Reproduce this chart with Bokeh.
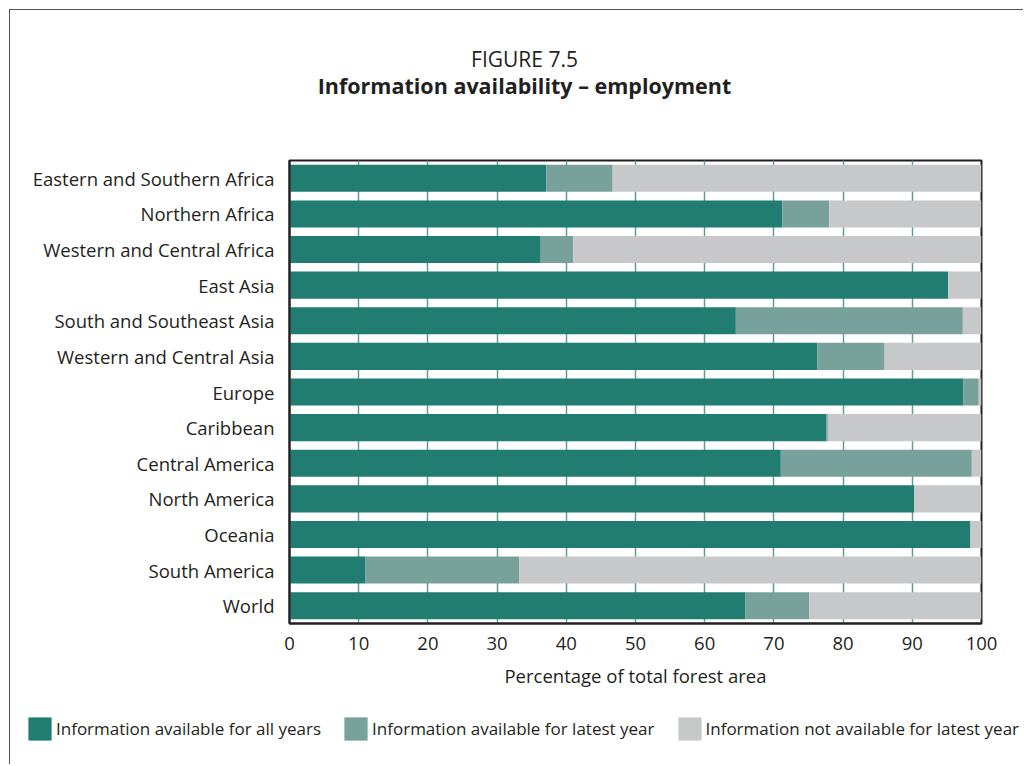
from bokeh.plotting import figure
from bokeh.models import (ColumnDataSource, FactorRange, Range1d, FixedTicker,
                          Legend, LegendItem, Label)
from bokeh.embed import file_html
from bokeh.resources import INLINE

regions = ["Eastern and Southern Africa", "Northern Africa", "Western and Central Africa",
           "East Asia", "South and Southeast Asia", "Western and Central Asia", "Europe",
           "Caribbean", "Central America", "North America", "Oceania", "South America", "World"]
all_years = [37.1, 71.2, 36.3, 95.2, 64.5, 76.3, 97.4, 77.6, 71.0, 90.3, 98.4, 11.0, 65.9]
latest_year = [9.6, 6.8, 4.7, 0.0, 32.8, 9.7, 2.2, 0.2, 27.6, 0.0, 0.0, 22.2, 9.2]
not_available = [53.3, 22.0, 59.0, 4.8, 2.7, 14.0, 0.4, 22.2, 1.4, 9.7, 1.6, 66.8, 24.9]
series_labels = ["Information available for all years", "Information available for latest year",
                 "Information not available for latest year"]
x_ticks = [0, 10, 20, 30, 40, 50, 60, 70, 80, 90, 100]
title_top = "FIGURE 7.5"
title_main = "Information availability – employment"
x_label = "Percentage of total forest area"

colors = ["#217d72", "#78a19b", "#c7c8ca"]
FONT = "Open Sans"
FS = "18.5px"
TXT = "#231f20"
FRAME = "1px solid #555"


def blank(h, top=False):
    f = figure(width=1014, height=h, output_backend="svg", toolbar_location=None,
               x_range=Range1d(0, 1), y_range=Range1d(0, 1),
               x_axis_location=None, y_axis_location=None,
               min_border_left=0, min_border_right=0, min_border_top=0, min_border_bottom=0)
    f.outline_line_color = None
    f.grid.grid_line_color = None
    st = {"border-left": FRAME, "margin-left": "9px"}
    if top:
        st.update({"border-top": FRAME, "margin-top": "9px"})
    f.styles = st
    return f


# ---- title strip
tf = blank(146, top=True)
tf.add_layout(Label(x=514, y=98, x_units="screen", y_units="screen", text=title_top,
                    text_font=FONT, text_font_size="21px", text_color=TXT,
                    text_align="center", text_baseline="middle"))
tf.add_layout(Label(x=514, y=71, x_units="screen", y_units="screen", text=title_main,
                    text_font=FONT, text_font_size="21.5px", text_font_style="bold",
                    text_color=TXT, text_align="center", text_baseline="middle"))

# ---- main chart
source = ColumnDataSource(dict(region=regions, a=all_years, b=latest_year, c=not_available))

p = figure(width=1014, height=549, output_backend="svg", toolbar_location=None,
           y_range=FactorRange(factors=list(reversed(regions)), range_padding=0),
           x_range=Range1d(0, 100),
           min_border_left=279, min_border_right=43, min_border_top=5, min_border_bottom=81)
p.styles = {"border-left": FRAME, "margin-left": "9px"}

rs = p.hbar_stack(["a", "b", "c"], y="region", height=0.76, color=colors, line_color=None,
                  source=source)

p.outline_line_color = TXT
p.outline_line_width = 2
p.ygrid.grid_line_color = None
p.xgrid.grid_line_color = "#5c9e96"
p.xgrid.grid_line_width = 1.5
p.xaxis.ticker = FixedTicker(ticks=x_ticks)

for ax in (p.xaxis[0], p.yaxis[0]):
    ax.axis_line_color = TXT
    ax.axis_line_width = 2
    ax.major_tick_line_color = None
    ax.major_tick_out = 0
    ax.major_tick_in = 0
    ax.minor_tick_line_color = None
    ax.minor_tick_out = 0
    ax.major_label_text_font = FONT
    ax.major_label_text_font_size = FS
    ax.major_label_text_color = TXT

p.yaxis.major_label_standoff = 15
p.xaxis.major_label_standoff = 13
p.xaxis.axis_label = x_label
p.xaxis.axis_label_text_font = FONT
p.xaxis.axis_label_text_font_size = FS
p.xaxis.axis_label_text_font_style = "normal"
p.xaxis.axis_label_text_color = TXT
p.xaxis.axis_label_standoff = 10

# ---- legend strip
lg = blank(60)
lrs = [lg.hbar(y=[0.5], left=[0], right=[0], height=0.5, color=c, line_color=None)
       for c in colors]
legend = Legend(items=[LegendItem(label=l, renderers=[r]) for l, r in zip(series_labels, lrs)],
                orientation="horizontal", location=(15, 21), margin=0, padding=0,
                glyph_width=29, glyph_height=29, label_standoff=2, spacing=20,
                label_text_font=FONT, label_text_font_size="17px", label_text_color=TXT,
                border_line_color=None, background_fill_alpha=0)
lg.add_layout(legend, "center")

open("out.html", "w").write(file_html([tf, p, lg], INLINE))
